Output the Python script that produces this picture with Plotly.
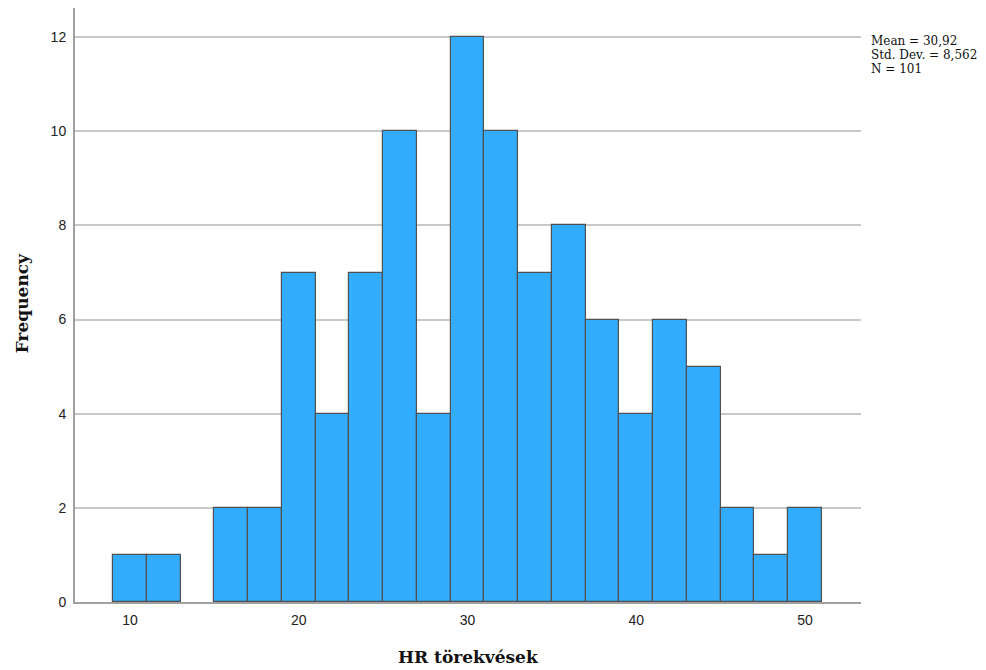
import plotly.graph_objects as go

bin_centers = [10, 12, 14, 16, 18, 20, 22, 24, 26, 28, 30, 32, 34, 36, 38, 40, 42, 44, 46, 48, 50]
frequencies = [1, 1, 0, 2, 2, 7, 4, 7, 10, 4, 12, 10, 7, 8, 6, 4, 6, 5, 2, 1, 2]
bin_width = 2
x_ticks = [10, 20, 30, 40, 50]
y_ticks = [0, 2, 4, 6, 8, 10, 12]
stats_lines = ["Mean = 30,92", "Std. Dev. = 8,562", "N = 101"]
x_title = "HR törekvések"
y_title = "Frequency"

serif = "DejaVu Serif, Liberation Serif, serif"

fig = go.Figure()
fig.add_trace(go.Bar(
    x=bin_centers, y=[v if v else None for v in frequencies], width=bin_width,
    marker=dict(color="#31acff", line=dict(color="#505050", width=1.2)),
))

annotations = []
for i, line in enumerate(stats_lines):
    annotations.append(dict(
        text=line, xref="paper", yref="paper", x=1, y=1, xshift=8, yshift=-(32.5 + 14.2 * i),
        xanchor="left", yanchor="middle", showarrow=False, align="left",
        font=dict(family=serif, size=12, color="#111"),
    ))
annotations.append(dict(
    text="<b>" + x_title + "</b>", xref="paper", yref="paper", x=0.5, y=0, yshift=-55,
    xanchor="center", yanchor="middle", showarrow=False,
    font=dict(family=serif, size=17, color="#111"),
))
annotations.append(dict(
    text="<b>" + y_title + "</b>", xref="paper", yref="paper", x=0, y=0.503, xshift=-53,
    xanchor="center", yanchor="middle", showarrow=False, textangle=-90,
    font=dict(family=serif, size=17, color="#111"),
))

fig.update_layout(
    width=978, height=662,
    margin=dict(l=67, r=125, t=0, b=68),
    plot_bgcolor="white", paper_bgcolor="white",
    showlegend=False, bargap=0,
    font=dict(family="Liberation Sans, Arial", size=14, color="#222"),
    xaxis=dict(
        range=[6.74, 53.32], tickvals=x_ticks, showgrid=False,
        showline=True, linecolor="#a0a0a0", linewidth=2,
        ticks="", zeroline=False, automargin=False, ticklabelstandoff=4,
    ),
    yaxis=dict(
        range=[0, 12.62], tickvals=y_ticks, showgrid=True, gridcolor="#c8c8c8", gridwidth=1.5,
        showline=True, linecolor="#a0a0a0", linewidth=2,
        ticks="", zeroline=False, automargin=False, ticklabelstandoff=4,
    ),
    annotations=annotations,
)

fig.write_html("out.html")
